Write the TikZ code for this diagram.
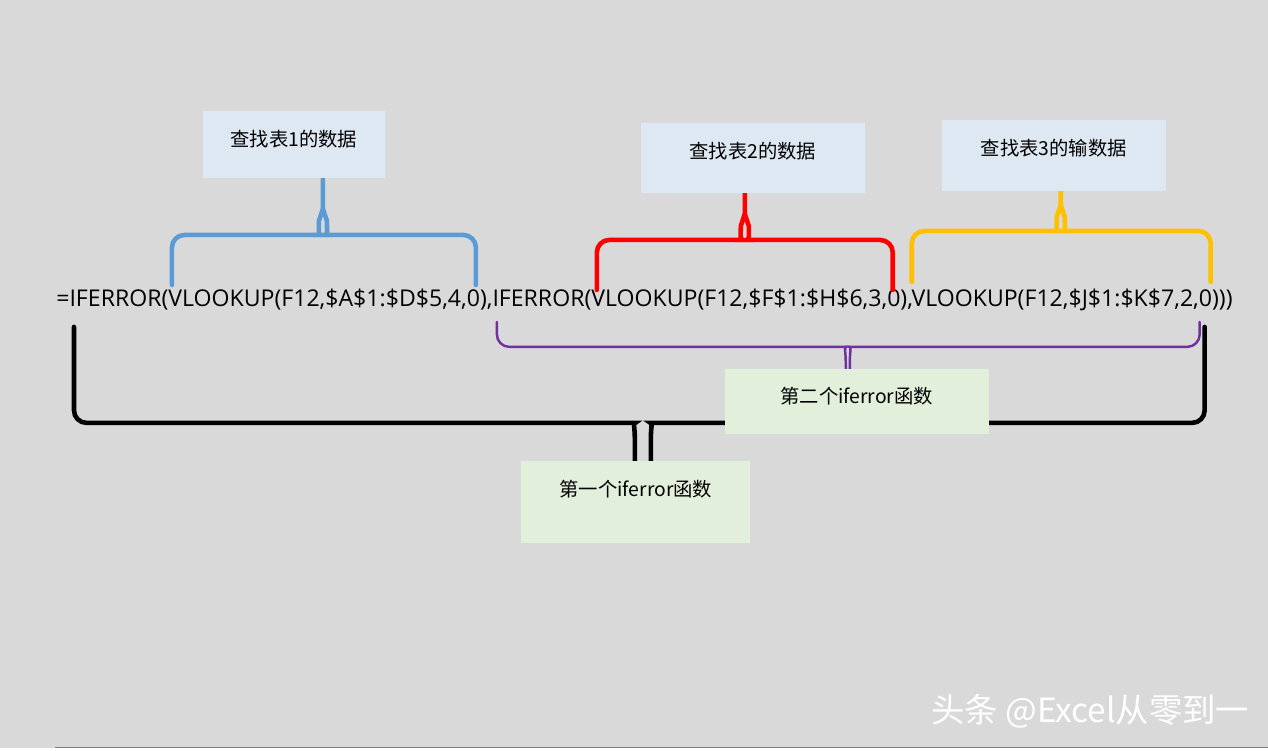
\documentclass[tikz,border=0pt]{standalone}
\usepackage{fontspec}
\setmainfont{Open Sans}
\newfontfamily\cjk{Noto Sans CJK SC}
\usetikzlibrary{positioning}
\definecolor{bg}{HTML}{D9D9D9}
\definecolor{boxblue}{HTML}{DEE8F3}
\definecolor{boxgreen}{HTML}{E2EFDA}
\definecolor{bblue}{HTML}{5B9BD5}
\definecolor{borange}{HTML}{FFC000}
\definecolor{bpurple}{HTML}{7030A0}
\tikzset{
lbl/.style={
  inner sep=0pt,
  align=center,
  font=\cjk\fontsize{11pt}{13pt}\selectfont
  },
brace/.style={
  line width=2.6pt,
  line cap=round
  }
}
% upward brace: colour, left x, right x, end y, bar y, tip x, tip y
\newcommand\upbrace[7]{%
  \draw[brace,#1] (#2,#4) [rounded corners=0.25cm] -- (#2,#5) -- (#6-14,#5) [sharp corners]
    .. controls (#6-5,#5) and (#6-4,#5-4) .. (#6-4,#5-14) -- (#6,#5-26) -- (#6,#7);
  \draw[brace,#1] (#3,#4) [rounded corners=0.25cm] -- (#3,#5) -- (#6+14,#5) [sharp corners]
    .. controls (#6+5,#5) and (#6+4,#5-4) .. (#6+4,#5-14) -- (#6,#5-26);}
% downward brace: colour, left x, right x, end y, bar y, tip x, tip y, stem gap
\newcommand\downbrace[8]{%
  \draw[brace,#1] (#2,#4) [rounded corners=0.25cm] -- (#2,#5) -- (#6-#8-12,#5) [sharp corners]
    .. controls (#6-#8-2,#5) and (#6-#8,#5+4) .. (#6-#8,#5+16) -- (#6-#8,#7);
  \draw[brace,#1] (#3,#4) [rounded corners=0.25cm] -- (#3,#5) -- (#6+#8+12,#5) [sharp corners]
    .. controls (#6+#8+2,#5) and (#6+#8,#5+4) .. (#6+#8,#5+16) -- (#6+#8,#7);}
\begin{document}
\begin{tikzpicture}[x=0.02cm,y=-0.02cm]
\fill[bg] (0,0) rectangle (1268,751);
\fill[white] (0,748) rectangle (1268,751);
\draw[gray,line width=0.4pt] (55,748) -- (1268,748);
% formula
\node[anchor=west,inner sep=0pt,font=\fontsize{13.15pt}{15pt}\selectfont] (f) at (56,300)
  {=IFERROR(VLOOKUP(F12,\$A\$1:\$D\$5,4,0),IFERROR(VLOOKUP(F12,\$F\$1:\$H\$6,3,0),VLOOKUP(F12,\$J\$1:\$K\$7,2,0)))};
% braces
\upbrace{bblue}{172}{476}{285}{235}{323}{178}
\upbrace{red}{597}{893}{290}{240}{745}{193}
\upbrace{borange}{912}{1211}{282}{231}{1061}{191}
\downbrace{bpurple,line width=1.4pt}{497}{1200}{322}{347}{848}{369}{2}
\downbrace{black}{74}{1205}{327}{423}{643}{461}{8}
% boxes
\fill[boxblue] (203,111) rectangle (385,178);
\node[lbl] (t1) at (294,139) {查找表1的数据};
\fill[boxblue] (641,123) rectangle (865,193);
\node[lbl] (t2) at (753,151) {查找表2的数据};
\fill[boxblue] (942,120) rectangle (1166,191);
\node[lbl] (t3) at (1054,148) {查找表3的输数据};
\fill[boxgreen] (725,369) rectangle (989,434);
\node[lbl] (g2) at (857,396) {第二个iferror函数};
\fill[boxgreen] (521,461) rectangle (750,543);
\node[lbl] (g1) at (636,489) {第一个iferror函数};
% watermark
\node[anchor=east,inner sep=0pt,text=white,font=\cjk\fontsize{19pt}{22pt}\selectfont] (wm) at (1250,712) {头条 @Excel从零到一};
\end{tikzpicture}
\end{document}
